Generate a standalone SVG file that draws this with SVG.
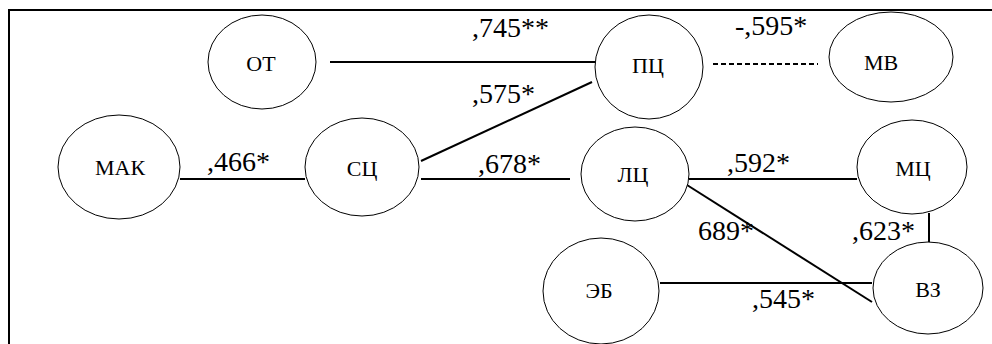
<svg xmlns="http://www.w3.org/2000/svg" width="992" height="344" viewBox="0 0 992 344">
<style>
.node ellipse{fill:#fff;stroke:#000;stroke-width:1}
.node text{font-size:22px;text-anchor:middle;fill:#000}
.lbl{font-size:28px;fill:#000}
.edges line{stroke:#000;stroke-width:2}
.dash{stroke-dasharray:5 3}
text{font-family:"Liberation Serif","Times New Roman",serif}
</style>
<rect width="992" height="344" fill="#fff"/>
<rect x="9" y="10" width="1000" height="400" fill="none" stroke="#000" stroke-width="2"/>
<g class="edges">
<line x1="330" y1="62" x2="595" y2="62"/>
<line class="dash" x1="713" y1="64" x2="818" y2="64"/>
<line x1="421" y1="161" x2="592" y2="82"/>
<line x1="180" y1="179" x2="305" y2="179"/>
<line x1="421" y1="179" x2="570" y2="179"/>
<line x1="689" y1="179" x2="857" y2="179"/>
<line x1="687" y1="185" x2="872" y2="302"/>
<line x1="929" y1="213" x2="929" y2="245"/>
<line x1="660" y1="283" x2="872" y2="283"/>
</g>
<g id="OT" class="node"><ellipse cx="262" cy="62" rx="54" ry="47"/><text x="261" y="71">ОТ</text></g>
<g id="PC" class="node"><ellipse cx="649" cy="67" rx="54" ry="52"/><text x="648" y="73">ПЦ</text></g>
<g id="MV" class="node"><ellipse cx="891" cy="57" rx="62" ry="45"/><text x="881" y="70">МВ</text></g>
<g id="MAK" class="node"><ellipse cx="119" cy="167" rx="61" ry="52"/><text x="120" y="175" font-size="19">МАК</text></g>
<g id="SC" class="node"><ellipse cx="362" cy="167" rx="57" ry="49"/><text x="362" y="176">СЦ</text></g>
<g id="LC" class="node"><ellipse cx="635" cy="174" rx="54" ry="47"/><text x="633" y="182">ЛЦ</text></g>
<g id="MC" class="node"><ellipse cx="912" cy="167" rx="55" ry="47"/><text x="913" y="176">МЦ</text></g>
<g id="EB" class="node"><ellipse cx="601" cy="291" rx="58" ry="53"/><text x="599" y="298">ЭБ</text></g>
<g id="VZ" class="node"><ellipse cx="928" cy="288" rx="55" ry="46"/><text x="928" y="297">ВЗ</text></g>
<g id="labels">
<text class="lbl" x="472" y="37">,745**</text>
<text class="lbl" x="472" y="103">,575*</text>
<text class="lbl" x="735" y="35">-,595*</text>
<text class="lbl" x="207" y="171">,466*</text>
<text class="lbl" x="478" y="173">,678*</text>
<text class="lbl" x="727" y="172">,592*</text>
<text class="lbl" x="698" y="240">689*</text>
<text class="lbl" x="852" y="240">,623*</text>
<text class="lbl" x="752" y="308">,545*</text>
</g>
</svg>
